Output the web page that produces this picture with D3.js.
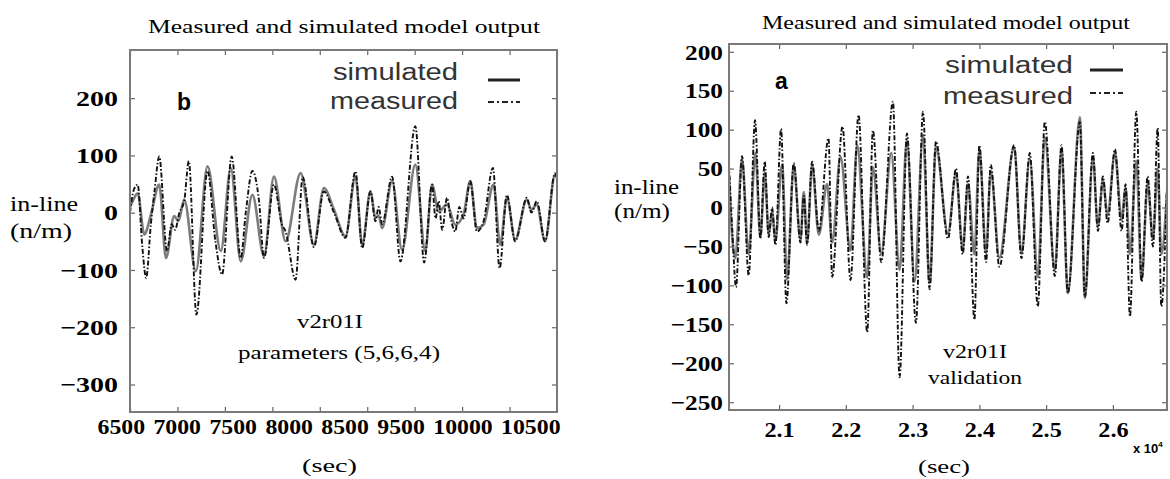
<!DOCTYPE html>
<html><head><meta charset="utf-8">
<script src="https://cdn.jsdelivr.net/npm/d3@7"></script>
<style>body{margin:0;background:#fff}svg{display:block}</style>
</head><body>
<svg id="c" width="1170" height="479"></svg>
<script>
// ---------- data: left panel (b) ----------
const leftSimulated = [[6500,10],[6528,20],[6581,34],[6651,-38],[6721,-3],[6808,49],[6879,-79],[6966,-6],[7010,-15],[7071,23],[7194,-102],[7317,81],[7457,-67],[7562,78],[7667,-85],[7790,31],[7912,-76],[8017,63],[8140,-50],[8298,69],[8438,-56],[8543,43],[8650,5],[8771,-41],[8876,63],[8947,-56],[9034,37],[9087,-9],[9120,-5],[9157,-27],[9262,55],[9367,-65],[9507,84],[9612,-67],[9683,49],[9753,2],[9841,14],[9928,-21],[10015,-3],[10086,55],[10156,-27],[10226,-21],[10331,49],[10401,-56],[10472,26],[10559,-47],[10682,23],[10730,5],[10787,14],[10874,-50],[10979,66],[11000,60]];
const leftMeasured = [[6500,0],[6540,40],[6581,49],[6630,-60],[6670,-114],[6720,-20],[6760,40],[6808,98],[6890,-67],[6940,-20],[6975,-30],[7020,0],[7071,20],[7120,90],[7200,-178],[7317,73],[7400,-50],[7470,-108],[7572,98],[7667,-79],[7720,0],[7790,73],[7860,20],[7912,-79],[8017,49],[8100,-20],[8140,-33],[8245,-117],[8320,62],[8438,-60],[8543,37],[8650,0],[8771,-44],[8876,72],[8947,-62],[9034,37],[9087,-15],[9120,10],[9157,-20],[9262,63],[9350,-85],[9507,151],[9600,-87],[9683,49],[9720,-10],[9753,20],[9790,-30],[9841,26],[9880,-10],[9928,-33],[9970,10],[10015,-10],[10086,55],[10156,-33],[10226,-15],[10325,78],[10395,-97],[10472,31],[10559,-50],[10682,26],[10730,0],[10787,20],[10874,-50],[10979,69],[11000,60]];
const leftYTicks = [200,100,0,-100,-200,-300];
const leftXTicks = [6500,7000,7500,8000,8500,9000,9500,10000,10500,11000];
const leftXLabels = ["6500","7000","7500","8000","8500","9500","10000","10500"];

// ---------- data: right panel (a) ----------
const rightSimulated = [[20250,40],[20300,-40],[20345,-65],[20445,62],[20545,-60],[20645,70],[20720,-38],[20785,45],[20845,-35],[20895,-5],[20945,-42],[21045,55],[21120,-92],[21220,55],[21320,-42],[21370,20],[21420,-45],[21495,55],[21595,-35],[21720,30],[21795,-45],[21920,65],[22070,-55],[22170,80],[22320,-90],[22405,52],[22530,-59],[22680,70],[22805,-80],[22915,87],[23030,-95],[23155,93],[23255,-97],[23350,78],[23530,-33],[23650,44],[23750,-54],[23830,30],[23925,-60],[24000,75],[24100,-59],[24170,47],[24300,-65],[24520,78],[24630,-59],[24755,63],[24875,-89],[24980,90],[25130,-80],[25230,74],[25325,-110],[25505,116],[25580,-116],[25700,65],[25775,-25],[25850,35],[25920,-10],[26030,70],[26130,-16],[26190,25],[26255,-60],[26350,60],[26430,-93],[26520,31],[26600,-40],[26670,50],[26725,-60],[26810,20]];
const rightMeasured = [[20250,55],[20300,-30],[20355,-102],[20445,66],[20545,-87],[20640,112],[20720,-40],[20785,59],[20845,-38],[20895,0],[20945,-48],[21030,101],[21110,-123],[21220,57],[21320,-45],[21370,15],[21420,-48],[21495,59],[21595,-30],[21740,89],[21795,-89],[21950,104],[22070,-93],[22190,119],[22320,-160],[22405,99],[22530,-70],[22705,136],[22805,-218],[22915,95],[23050,-148],[23155,123],[23255,-105],[23350,85],[23530,-40],[23650,50],[23750,-60],[23830,40],[23925,-144],[24000,80],[24100,-70],[24170,55],[24300,-76],[24520,80],[24630,-65],[24755,70],[24875,-127],[24980,110],[25130,-88],[25230,80],[25325,-110],[25505,110],[25580,-115],[25700,70],[25775,-30],[25850,40],[25920,-20],[26030,75],[26130,-30],[26190,30],[26255,-140],[26350,123],[26430,-95],[26520,40],[26600,-50],[26670,102],[26725,-127],[26810,30]];
const rightYTicks = [200,150,100,50,0,-50,-100,-150,-200,-250];
const rightXTicks = [21000,22000,23000,24000,25000,26000];
const rightXLabels = ["2.1","2.2","2.3","2.4","2.5","2.6"];

const svg = d3.select("#c");
const SERIF = "'Liberation Serif', 'Times New Roman', serif";
const SANS = "'Liberation Sans', Arial, sans-serif";

function txt(g, s, x, y, o) {
  const t = g.append("text").attr("x", x).attr("y", y).text(s)
    .style("font-family", o.fam || SERIF).style("font-size", o.size + "px")
    .style("font-weight", o.weight || "normal")
    .attr("text-anchor", o.anchor || "start")
    .attr("fill", o.fill || "#000");
  if (o.w) t.attr("textLength", o.w).attr("lengthAdjust", "spacingAndGlyphs");
  return t;
}
function stretch(sel, k) {
  sel.each(function () {
    const n = this.getComputedTextLength();
    d3.select(this).attr("textLength", n * k).attr("lengthAdjust", "spacingAndGlyphs");
  });
}
function styleLabels(sel) {
  sel.style("font-family", SERIF).style("font-weight", "bold")
    .style("font-size", "22px").attr("fill", "#000");
}

function panel(cfg) {
  const x = d3.scaleLinear().domain(cfg.xDomain).range([cfg.x0, cfg.x1]);
  const y = d3.scaleLinear().domain(cfg.yDomain).range([cfg.y1, cfg.y0]);
  const g = svg.append("g");
  const id = "clip" + cfg.name;
  svg.append("clipPath").attr("id", id).append("rect")
    .attr("x", cfg.x0).attr("y", cfg.y0).attr("width", cfg.x1 - cfg.x0).attr("height", cfg.y1 - cfg.y0);

  const line = d3.line().x(d => x(d[0])).y(d => y(d[1])).curve(d3.curveMonotoneX);
  const lines = g.append("g").attr("clip-path", `url(#${id})`);
  lines.append("path").datum(cfg.sim).attr("d", line).attr("fill", "none")
    .attr("stroke", "#7c7c7c").attr("stroke-width", 2.6).attr("stroke-linejoin", "round");
  lines.append("path").datum(cfg.meas).attr("d", line).attr("fill", "none")
    .attr("stroke", "#111").attr("stroke-width", 1.9).attr("stroke-dasharray", "5,2,1.5,2");

  const tk = (sel) => { sel.select(".domain").remove(); sel.selectAll("text").remove();
    sel.selectAll("line").attr("stroke", "#666").attr("stroke-width", 1.2); };
  g.append("g").attr("transform", `translate(0,${cfg.y1})`)
    .call(d3.axisBottom(x).tickValues(cfg.xTicks).tickSize(-5)).call(tk);
  g.append("g").attr("transform", `translate(0,${cfg.y0})`)
    .call(d3.axisTop(x).tickValues(cfg.xTicks).tickSize(-5)).call(tk);
  g.append("g").attr("transform", `translate(${cfg.x1},0)`)
    .call(d3.axisRight(y).tickValues(cfg.yTicks).tickSize(-5)).call(tk);

  const ya = g.append("g").attr("transform", `translate(${cfg.x0},0)`)
    .call(d3.axisLeft(y).tickValues(cfg.yTicks).tickSize(-5).tickPadding(cfg.yPad));
  ya.select(".domain").remove();
  ya.selectAll("line").attr("stroke", "#666").attr("stroke-width", 1.2);
  styleLabels(ya.selectAll("text"));
  ya.selectAll("text").attr("dy", "0.33em");
  stretch(ya.selectAll("text"), cfg.yStretch);

  g.append("rect").attr("x", cfg.x0).attr("y", cfg.y0)
    .attr("width", cfg.x1 - cfg.x0).attr("height", cfg.y1 - cfg.y0)
    .attr("fill", "none").attr("stroke", "#7a7a7a").attr("stroke-width", 2);
  return { g, x, y };
}

// ---------- left panel ----------
const L = panel({
  name: "L", x0: 130, x1: 557, y0: 50, y1: 412,
  xDomain: [6500, 11000], yDomain: [-348, 284],
  sim: leftSimulated, meas: leftMeasured,
  xTicks: leftXTicks, yTicks: leftYTicks, yPad: 12, yStretch: 1.27
});
// bottom labels: a row of labels laid out one after another (as in the source figure)
{
  const probe = L.g.append("g");
  const widths = leftXLabels.map(s => {
    const t = probe.append("text").text(s);
    styleLabels(t);
    return t.node().getComputedTextLength() * 1.08;
  });
  probe.remove();
  const start = 97, end = 560;
  const gap = (end - start - d3.sum(widths)) / (widths.length - 1);
  let cur = start;
  const centers = widths.map(w => { const c = cur + w / 2; cur += w + gap; return c; });
  const lab = d3.scaleOrdinal().domain(leftXLabels).range(centers);
  const xa = L.g.append("g").attr("transform", "translate(0,412)")
    .call(d3.axisBottom(lab).tickSize(0));
  xa.select(".domain").remove();
  styleLabels(xa.selectAll("text"));
  xa.selectAll("text").attr("y", 22).attr("dy", 0);
  stretch(xa.selectAll("text"), 1.08);
}
txt(L.g, "Measured and simulated model output", 148, 33, { size: 18, w: 392 });
txt(L.g, "in-line", 10, 211, { size: 20, w: 68 });
txt(L.g, "(n/m)", 10, 238, { size: 20, w: 62 });
txt(L.g, "(sec)", 302, 472, { size: 18, w: 55 });
txt(L.g, "b", 177, 110, { size: 23, weight: "bold", fam: SANS });
txt(L.g, "v2r01I", 297, 328, { size: 18, w: 66 });
txt(L.g, "parameters (5,6,6,4)", 238, 359, { size: 18, w: 202 });
txt(L.g, "simulated", 458, 80, { size: 23, fam: SANS, anchor: "end", fill: "#333", w: 125 });
txt(L.g, "measured", 458, 109, { size: 23, fam: SANS, anchor: "end", fill: "#333", w: 128 });
L.g.append("line").attr("x1", 488).attr("x2", 520).attr("y1", 80).attr("y2", 80)
  .attr("stroke", "#222").attr("stroke-width", 3);
L.g.append("line").attr("x1", 488).attr("x2", 520).attr("y1", 102).attr("y2", 102)
  .attr("stroke", "#222").attr("stroke-width", 2).attr("stroke-dasharray", "6,3,2,3");

// ---------- right panel ----------
const R = panel({
  name: "R", x0: 729, x1: 1167, y0: 44, y1: 410,
  xDomain: [20250, 26810], yDomain: [-260, 210],
  sim: rightSimulated, meas: rightMeasured,
  xTicks: rightXTicks, yTicks: rightYTicks, yPad: 6, yStretch: 1.15
});
{
  const lab = d3.scaleOrdinal().domain(rightXLabels).range(rightXTicks.map(v => R.x(v)));
  const xa = R.g.append("g").attr("transform", "translate(0,410)")
    .call(d3.axisBottom(lab).tickSize(0));
  xa.select(".domain").remove();
  styleLabels(xa.selectAll("text"));
  xa.selectAll("text").attr("y", 27).attr("dy", 0);
  stretch(xa.selectAll("text"), 1.1);
}
txt(R.g, "Measured and simulated model output", 762, 29, { size: 18, w: 368 });
txt(R.g, "in-line", 614, 194, { size: 20, w: 65 });
txt(R.g, "(n/m)", 614, 218, { size: 20, w: 56 });
txt(R.g, "(sec)", 918, 473, { size: 18, w: 52 });
txt(R.g, "a", 775, 89, { size: 23, weight: "bold", fam: SANS });
txt(R.g, "v2r01I", 943, 358, { size: 18, w: 64 });
txt(R.g, "validation", 928, 384, { size: 18, w: 94 });
txt(R.g, "simulated", 1073, 73, { size: 23, fam: SANS, anchor: "end", fill: "#333", w: 128 });
txt(R.g, "measured", 1073, 104, { size: 23, fam: SANS, anchor: "end", fill: "#333", w: 130 });
R.g.append("line").attr("x1", 1090).attr("x2", 1123).attr("y1", 70).attr("y2", 70)
  .attr("stroke", "#222").attr("stroke-width", 3);
R.g.append("line").attr("x1", 1090).attr("x2", 1123).attr("y1", 93).attr("y2", 93)
  .attr("stroke", "#222").attr("stroke-width", 2).attr("stroke-dasharray", "6,3,2,3");
const ex = R.g.append("text").attr("x", 1133).attr("y", 453)
  .style("font-family", SANS).style("font-weight", "bold").style("font-size", "13px").attr("fill", "#000");
ex.append("tspan").text("x 10");
ex.append("tspan").text("4").style("font-size", "8px").attr("dy", -6);
</script>
</body></html>
